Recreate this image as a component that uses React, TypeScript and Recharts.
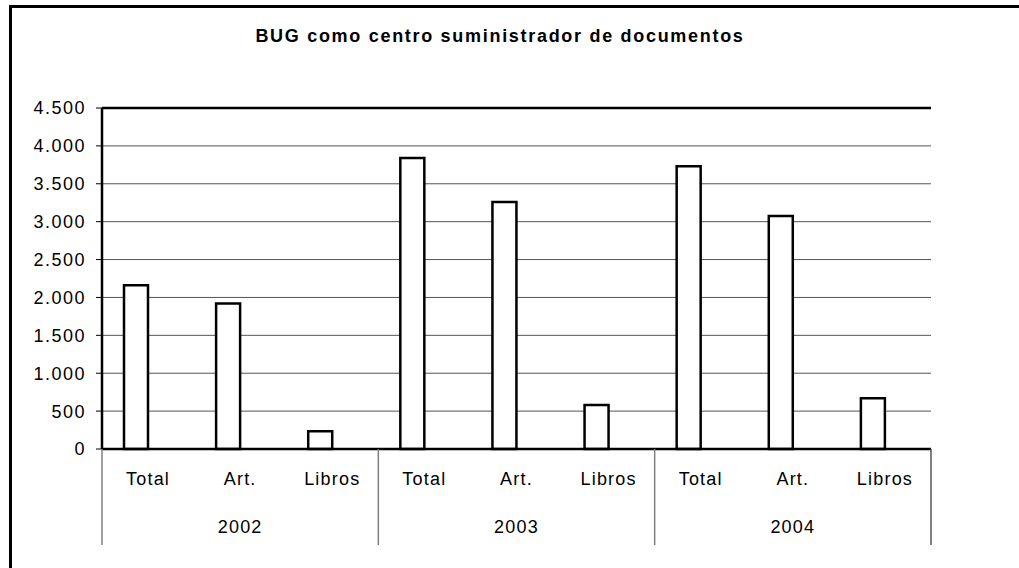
import { BarChart, Bar, XAxis, YAxis, CartesianGrid, ReferenceLine } from "recharts";

const years = ["2002", "2003", "2004"];
const kinds = ["Total", "Art.", "Libros"];
const docs2002 = [2160, 1920, 235];
const docs2003 = [3840, 3260, 580];
const docs2004 = [3730, 3075, 670];
const yTicks = [0, 500, 1000, 1500, 2000, 2500, 3000, 3500, 4000, 4500];

const FONT = "'Liberation Sans', Arial, sans-serif";

const series = [docs2002, docs2003, docs2004];
const data = years.flatMap((year, g) =>
  kinds.map((kind, k) => ({ key: `${year}-${kind}`, kind, year, docs: series[g][k], empty: null }))
);

const fmt = (v: number) => v.toLocaleString("de-DE");

// two-row category axis: kind under each bar, year under each group, group dividers
const GroupTick = ({ x, y, payload, index }: any) => {
  const half = payload?.offset || 46;
  const row = data[index];
  const pos = index % kinds.length;
  return (
    <g>
      <text x={x} y={y + 36} textAnchor="middle" fontFamily={FONT} fontSize={18} letterSpacing={1.2} fill="#000">
        {row.kind}
      </text>
      {pos === 1 && (
        <text x={x} y={y + 84} textAnchor="middle" fontFamily={FONT} fontSize={18} letterSpacing={1.2} fill="#000">
          {row.year}
        </text>
      )}
      {pos === 0 && <line x1={x - half} x2={x - half} y1={y} y2={y + 96} stroke="#808080" strokeWidth={1.5} />}
      {index === data.length - 1 && (
        <line x1={x + half} x2={x + half} y1={y} y2={y + 96} stroke="#555" strokeWidth={1.5} />
      )}
    </g>
  );
};

export default function App() {
  return (
    <div style={{ position: "absolute", left: 0, top: 0, width: 1019, height: 568, overflow: "hidden", background: "#fff" }}>
      <div
        style={{
          position: "absolute", left: 9, top: 5, width: 1100, height: 700,
          border: "3px solid #000", boxSizing: "border-box",
        }}
      />
      <div
        style={{
          position: "absolute", left: 0, top: 24, width: 1000, textAlign: "center",
          fontFamily: FONT, fontWeight: "bold", fontSize: 18, letterSpacing: 1.7, lineHeight: "24px",
        }}
      >
        BUG como centro suministrador de documentos
      </div>
      <BarChart
        width={1019}
        height={568}
        data={data}
        margin={{ top: 108, right: 88, bottom: 0, left: 22 }}
        barGap={0}
        barSize={24}
        style={{ position: "absolute", left: 0, top: 0 }}
      >
        <CartesianGrid horizontal vertical={false} stroke="#555" strokeWidth={1} />
        <XAxis
          dataKey="key"
          interval={0}
          tickLine={false}
          tickSize={0}
          tickMargin={0}
          height={119}
          axisLine={{ stroke: "#000", strokeWidth: 2.5 }}
          tick={<GroupTick />}
        />
        <YAxis
          domain={[0, 4500]}
          ticks={yTicks}
          interval={0}
          width={80}
          tickSize={6}
          tickMargin={10}
          tickFormatter={fmt}
          axisLine={{ stroke: "#000", strokeWidth: 2.5 }}
          tickLine={{ stroke: "#000" }}
          tick={{ fill: "#000", fontSize: 18, fontFamily: FONT, letterSpacing: 1.5 }}
        />
        <YAxis yAxisId="right" orientation="right" width={0} tick={false} tickLine={false}
          axisLine={{ stroke: "#222", strokeWidth: 1.5 }} />
        <ReferenceLine y={4500} stroke="#000" strokeWidth={2.5} />
        <Bar dataKey="docs" fill="#fff" stroke="#000" strokeWidth={2.5} isAnimationActive={false} />
        <Bar dataKey="empty" fill="#fff" stroke="#000" strokeWidth={2.5} isAnimationActive={false} />
      </BarChart>
    </div>
  );
}
